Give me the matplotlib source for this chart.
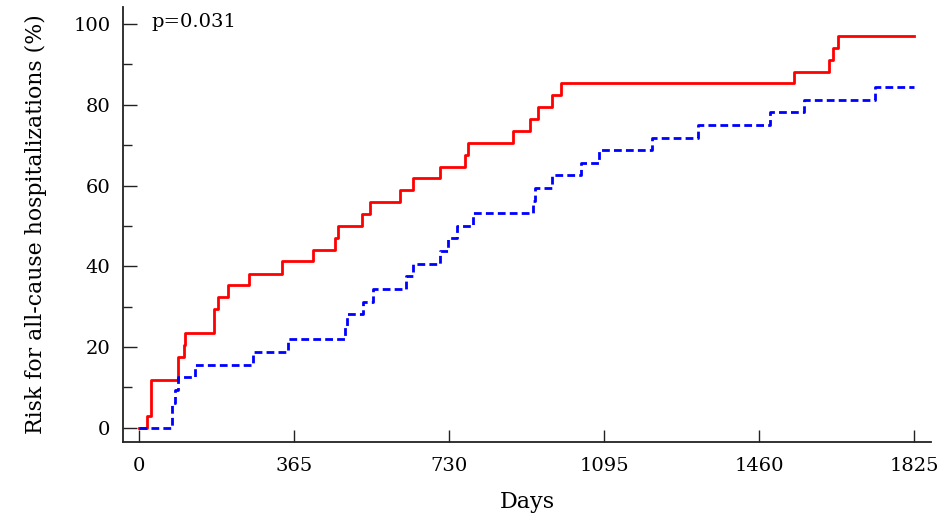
import matplotlib
matplotlib.use("Agg")
import matplotlib.pyplot as plt
from matplotlib.ticker import MultipleLocator

plt.rcParams['font.family'] = ['DejaVu Serif']

# cumulative risk curves (days, %)
red_days = [0, 18, 28, 93, 105, 108, 176, 187, 209, 258, 338, 409, 461, 469, 525,
            545, 614, 646, 709, 767, 774, 880, 921, 940, 972, 995, 1543, 1625,
            1635, 1645, 1825]
red_risk = [0, 2.9, 11.8, 17.6, 20.6, 23.5, 29.4, 32.4, 35.3, 38.2, 41.2, 44.1,
            47.1, 50.0, 52.9, 55.9, 58.8, 61.8, 64.7, 67.6, 70.6, 73.5, 76.5,
            79.4, 82.4, 85.3, 88.2, 91.2, 94.1, 97.1, 97.1]

blue_days = [0, 77, 85, 93, 132, 268, 352, 485, 491, 528, 550, 629, 646, 709,
             728, 749, 786, 928, 932, 972, 1042, 1084, 1207, 1317, 1486, 1566,
             1733, 1825]
blue_risk = [0, 6.2, 9.4, 12.5, 15.6, 18.8, 21.9, 25.0, 28.1, 31.2, 34.4, 37.5,
             40.6, 43.8, 46.9, 50.0, 53.1, 56.2, 59.4, 62.5, 65.6, 68.8, 71.9,
             75.0, 78.1, 81.2, 84.4, 84.4]

x_ticks = [0, 365, 730, 1095, 1460, 1825]
y_ticks = [0, 20, 40, 60, 80, 100]

fig = plt.figure(figsize=(9.48, 5.24), dpi=100)
ax = fig.add_axes([0.1297, 0.1565, 0.8523, 0.830])

ax.step(red_days, red_risk, where='post', color='#ff0000', lw=2.0)
ax.step(blue_days, blue_risk, where='post', color='#0000ff', lw=2.0,
        linestyle=(0, (2.8, 1.5)))

ax.set_xlim(-37.7, 1865)
ax.set_ylim(-3.5, 104.2)
ax.set_xticks(x_ticks)
ax.set_yticks(y_ticks)
ax.yaxis.set_minor_locator(MultipleLocator(10))

for s in ['top', 'right']:
    ax.spines[s].set_visible(False)
for s in ['left', 'bottom']:
    ax.spines[s].set_linewidth(1.3)
    ax.spines[s].set_color('#222222')

ax.tick_params(axis='x', direction='in', length=8.5, width=1, color='#222222',
               labelsize=14, pad=11)
ax.tick_params(axis='y', which='major', direction='in', length=10, width=1,
               color='#222222', labelsize=14, pad=9)
ax.tick_params(axis='y', which='minor', direction='in', length=6.5, width=1,
               color='#222222')

ax.set_xlabel('Days', fontsize=16, labelpad=11)
ax.set_ylabel('Risk for all-cause hospitalizations (%)', fontsize=15.8,
              labelpad=19)

ax.text(30, 100.5, 'p=0.031', fontsize=14, ha='left', va='center')

fig.savefig('out.png', dpi=100)
